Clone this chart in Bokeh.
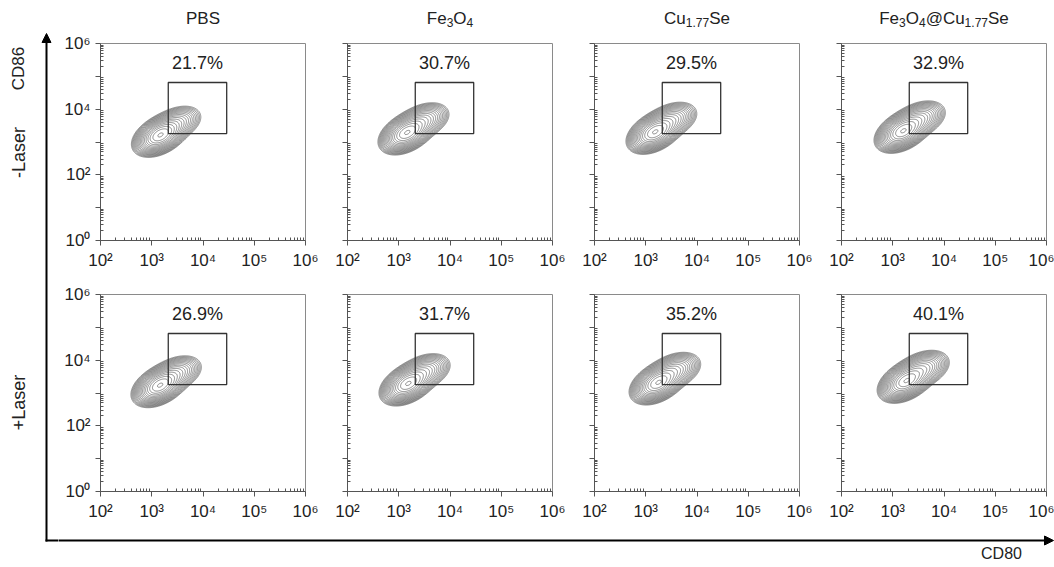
import re
import numpy as np
from contourpy import contour_generator
from bokeh.plotting import figure
from bokeh.models import Range1d, FixedTicker, CustomJSTickFormatter, Arrow, NormalHead
from bokeh.layouts import row, column
from bokeh.embed import file_html
from bokeh.resources import INLINE
from bokeh.core.properties import value

FONT = "Liberation Sans"

# ---- data -------------------------------------------------------------
groups = ["PBS", "Fe_{3}O_{4}", "Cu_{1.77}Se", "Fe_{3}O_{4}@Cu_{1.77}Se"]
conditions = ["-Laser", "+Laser"]
x_title = "CD80"
y_title = "CD86"

# % of cells inside the CD80+CD86+ gate, per condition (rows) and group (columns)
gate_pct = [[21.7, 30.7, 29.5, 32.9],
            [26.9, 31.7, 35.2, 40.1]]

# gate rectangle (fluorescence intensity)
gate_cd80 = [2.1e3, 2.9e4]
gate_cd86 = [1.8e3, 6.5e4]

# densest point of each population, log10 intensity
peak_cd80 = [[3.16, 3.15, 3.17, 3.19],
             [3.15, 3.17, 3.23, 3.25]]
peak_cd86 = [[3.20, 3.27, 3.29, 3.32],
             [3.22, 3.27, 3.30, 3.35]]

# axis ticks
x_major = [1e2, 1e3, 1e4, 1e5, 1e6]
y_major = [1e0, 1e1, 1e2, 1e3, 1e4, 1e5, 1e6]
x_tick_labels = ["10²", "10³", "10⁴", "10⁵", "10⁶"]
y_tick_labels = ["10⁰", "", "10²", "", "10⁴", "", "10⁶"]


def minor_ticks(lo_exp, hi_exp):
    return [k * 10.0 ** e for e in range(lo_exp, hi_exp) for k in range(2, 10)]


# ---- layout geometry (pixels) -----------------------------------------
LEFT_W = 58
TOP_H = 32
BOTTOM_H = 41
FRAME_W = 205
FRAME_H = 197

# Arial/Liberation Sans advance widths (per 1000 em) for title layout
ADV = {"F": 611, "e": 556, "O": 778, "@": 1015, "C": 722, "u": 556, "S": 667,
       "P": 667, "B": 667, ".": 278}
for d in "0123456789":
    ADV[d] = 556


def text_width(s, size):
    return sum(ADV.get(ch, 556) for ch in s) * size / 1000.0


def density(cx, cy, tail_w, gx, gy):
    """Two-component log-normal population: resting + activated tail."""
    def gauss(mx, my, sx, sy, rho):
        dx = (gx - mx) / sx
        dy = (gy - my) / sy
        q = (dx * dx - 2 * rho * dx * dy + dy * dy) / (1 - rho * rho)
        return np.exp(-0.5 * q)
    main = gauss(cx, cy, 0.20, 0.24, 0.40)
    tail = gauss(cx + 0.33, cy + 0.38, 0.22, 0.24, 0.35)
    return main + tail_w * tail


LEVELS = np.geomspace(0.02, 0.97, 18)


def panel(r, c):
    bl = 42 if c == 0 else 28
    br = 8 if c == 3 else 14
    bt = 11 if r == 0 else 14
    bb = 40 if r == 0 else 35
    p = figure(width=bl + FRAME_W + br, height=bt + FRAME_H + bb,
               x_axis_type="log", y_axis_type="log",
               x_range=Range1d(1e2, 1e6), y_range=Range1d(1e0, 1e6),
               min_border_left=bl, min_border_right=br,
               min_border_top=bt, min_border_bottom=bb,
               toolbar_location=None, output_backend="svg", title=None)
    p.grid.visible = False
    p.outline_line_color = "#8a8a8a"
    p.background_fill_color = "white"
    p.border_fill_color = "white"

    xa, ya = p.xaxis[0], p.yaxis[0]
    xa.ticker = FixedTicker(ticks=x_major, minor_ticks=minor_ticks(2, 6))
    ya.ticker = FixedTicker(ticks=y_major, minor_ticks=minor_ticks(0, 6))
    fmt_code = "const e = Math.round(Math.log10(tick)); return labels[e - lo] || '';"
    xa.formatter = CustomJSTickFormatter(args=dict(labels=x_tick_labels, lo=2), code=fmt_code)
    ylabels = y_tick_labels if c == 0 else [""] * len(y_tick_labels)
    ya.formatter = CustomJSTickFormatter(args=dict(labels=ylabels, lo=0), code=fmt_code)
    for ax in (xa, ya):
        ax.axis_line_color = "#555555"
        ax.major_tick_line_color = "#555555"
        ax.minor_tick_line_color = "#555555"
        ax.major_tick_out = 5
        ax.major_tick_in = 0
        ax.minor_tick_out = 0
        ax.minor_tick_in = 3
        ax.major_label_text_font = FONT
        ax.major_label_text_font_size = "17px"
        ax.major_label_text_color = "#222222"
        ax.major_label_standoff = 5

    # contour plot of the population
    gx1 = np.linspace(2.0, 5.0, 300)
    gy1 = np.linspace(1.6, 5.2, 300)
    GX, GY = np.meshgrid(gx1, gy1)
    Z = density(peak_cd80[r][c], peak_cd86[r][c], 0.9 * gate_pct[r][c] / 100.0, GX, GY)
    Z = Z / Z.max()
    gen = contour_generator(gx1, gy1, Z)
    xs, ys = [], []
    for lev in LEVELS:
        for seg in gen.lines(lev):
            xs.append(10.0 ** seg[:, 0])
            ys.append(10.0 ** seg[:, 1])
    p.multi_line(xs, ys, line_color="#5a5a5a", line_width=0.75, line_alpha=0.95)

    # gate
    p.quad(left=[gate_cd80[0]], right=[gate_cd80[1]],
           bottom=[gate_cd86[0]], top=[gate_cd86[1]],
           fill_color=None, line_color="#333333", line_width=1.3)
    gx_mid = 10 ** np.mean(np.log10(gate_cd80))
    p.text(x=[gx_mid], y=[2.6e5], text=[f"{gate_pct[r][c]}%"],
           text_align="center", text_baseline="middle",
           text_font=value(FONT), text_font_size="18px", text_color="#222222")
    return p


def strip(w, h, x0, y0):
    s = figure(width=w, height=h, x_range=Range1d(x0, x0 + w), y_range=Range1d(y0 + h, y0),
               x_axis_type=None, y_axis_type=None, min_border=0,
               toolbar_location=None, output_backend="svg", title=None)
    s.outline_line_color = None
    s.grid.visible = False
    return s


W = 1054
H = 567

# left strip: vertical axis arrow and row labels
left = strip(LEFT_W, H, 0, 0)
left.add_layout(Arrow(end=NormalHead(size=9, fill_color="black", line_color="black"),
                      x_start=46, y_start=541, x_end=46, y_end=33,
                      line_width=2, line_color="black"))
left.segment(x0=[45], y0=[540], x1=[LEFT_W], y1=[540], line_width=2, line_color="black")
left.text(x=[18], y=[68], text=[y_title], angle=np.pi / 2,
          text_align="center", text_baseline="middle",
          text_font=value(FONT), text_font_size="17px", text_color="#222222")
left.text(x=[18, 18], y=[152, 402], text=conditions, angle=np.pi / 2,
          text_align="center", text_baseline="middle",
          text_font=value(FONT), text_font_size="18px", text_color="#222222")

# top strip: group titles with subscripts
top = strip(W - LEFT_W, TOP_H, LEFT_W, 0)
frame_left = [100, 347, 594, 841]
TSIZE, SSIZE = 17, 12
for c, name in enumerate(groups):
    parts = re.findall(r"_\{([^}]*)\}|([^_]+)", name)
    segs = [(sub, True) if sub else (txt, False) for sub, txt in parts]
    widths = [text_width(t, SSIZE if is_sub else TSIZE) for t, is_sub in segs]
    x = frame_left[c] + FRAME_W / 2 - sum(widths) / 2
    for (t, is_sub), w in zip(segs, widths):
        top.text(x=[x], y=[22 if is_sub else 18], text=[t],
                 text_align="left", text_baseline="alphabetic",
                 text_font=value(FONT), text_font_size=f"{SSIZE if is_sub else TSIZE}px",
                 text_color="#222222")
        x += w

# bottom strip: horizontal axis arrow
bottom = strip(W - LEFT_W, BOTTOM_H, LEFT_W, H - BOTTOM_H)
bottom.add_layout(Arrow(end=NormalHead(size=9, fill_color="black", line_color="black"),
                        x_start=LEFT_W - 1, y_start=540, x_end=1053, y_end=540,
                        line_width=2, line_color="black"))
bottom.text(x=[1001], y=[553], text=[x_title], text_align="center", text_baseline="middle",
            text_font=value(FONT), text_font_size="16px", text_color="#222222")

rows = [row(*[panel(r, c) for c in range(4)], spacing=0) for r in range(2)]
right = column(top, rows[0], rows[1], bottom, spacing=0)
layout = row(left, right, spacing=0)

open("out.html", "w").write(file_html(layout, INLINE))
